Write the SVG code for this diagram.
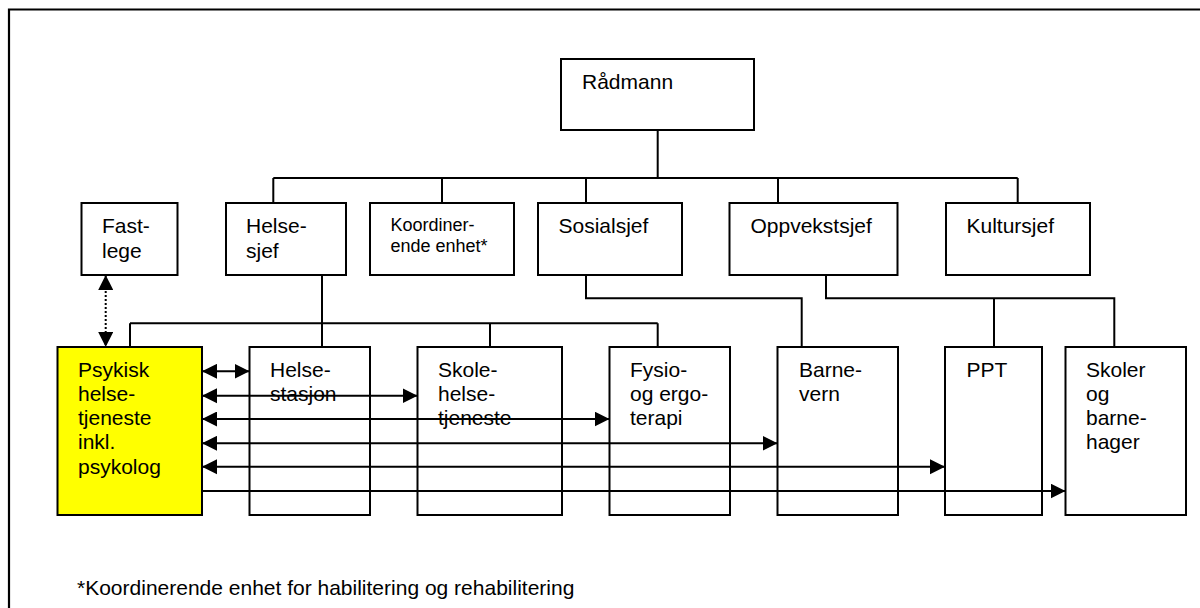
<svg xmlns="http://www.w3.org/2000/svg" width="1200" height="608" viewBox="0 0 1200 608">
<style>
.box{fill:#fff;stroke:#000;stroke-width:2}
.yel{fill:#ffff00;stroke:#000;stroke-width:2}
.t{font-family:"Liberation Sans",Arial,sans-serif;font-size:21px;fill:#000}
.ts{font-family:"Liberation Sans",Arial,sans-serif;font-size:18px;fill:#000}
.c{fill:none;stroke:#000;stroke-width:2}
.d{fill:none;stroke:#000;stroke-width:2;stroke-dasharray:2 2}
</style>
<defs>
<marker id="ae" markerUnits="userSpaceOnUse" markerWidth="18" markerHeight="18" refX="15" refY="7.5" orient="auto">
<path d="M0,0 L15,7.5 L0,15 Z" fill="#000"/>
</marker>
<marker id="as" markerUnits="userSpaceOnUse" markerWidth="18" markerHeight="18" refX="0" refY="7.5" orient="auto">
<path d="M15,0 L0,7.5 L15,15 Z" fill="#000"/>
</marker>
</defs>
<rect width="1200" height="608" fill="#fff"/>
<path id="frame" d="M9,620 V9.5 H1210" fill="none" stroke="#000" stroke-width="2.2"/>

<g id="radmann"><rect class="box" x="561" y="59" width="193" height="71"/><text class="t" x="582" y="89">Rådmann</text></g>
<g id="fastlege"><rect class="box" x="81.5" y="203" width="96" height="72"/><text class="t" x="102" y="233">Fast-</text><text class="t" x="102" y="258">lege</text></g>
<g id="helsesjef"><rect class="box" x="226" y="203" width="120" height="72"/><text class="t" x="246" y="233">Helse-</text><text class="t" x="246" y="258">sjef</text></g>
<g id="koordinerende"><rect class="box" x="370" y="203" width="144" height="72"/><text class="ts" x="390.5" y="231">Koordiner-</text><text class="ts" x="390.5" y="252">ende enhet*</text></g>
<g id="sosialsjef"><rect class="box" x="538" y="203" width="144" height="72"/><text class="t" x="558.5" y="233">Sosialsjef</text></g>
<g id="oppvekstsjef"><rect class="box" x="729.5" y="203" width="168" height="72"/><text class="t" x="750.5" y="233">Oppvekstsjef</text></g>
<g id="kultursjef"><rect class="box" x="946" y="203" width="144" height="72"/><text class="t" x="966.5" y="233">Kultursjef</text></g>

<g id="psykisk"><rect class="yel" x="57.5" y="347" width="144.5" height="168"/>
<text class="t" x="78" y="376.5">Psykisk</text><text class="t" x="78" y="400.8">helse-</text><text class="t" x="78" y="425">tjeneste</text><text class="t" x="78" y="449.3">inkl.</text><text class="t" x="78" y="473.5">psykolog</text></g>
<g id="helsestasjon"><rect class="box" x="249.5" y="347" width="120.5" height="168"/><text class="t" x="270" y="376.5">Helse-</text><text class="t" x="270" y="400.8">stasjon</text></g>
<g id="skolehelsetjeneste"><rect class="box" x="417.5" y="347" width="144.5" height="168"/><text class="t" x="438" y="376.5">Skole-</text><text class="t" x="438" y="400.8">helse-</text><text class="t" x="438" y="425">tjeneste</text></g>
<g id="fysio"><rect class="box" x="609.5" y="347" width="120.5" height="168"/><text class="t" x="630" y="376.5">Fysio-</text><text class="t" x="630" y="400.8">og ergo-</text><text class="t" x="630" y="425">terapi</text></g>
<g id="barnevern"><rect class="box" x="777.5" y="347" width="120.5" height="168"/><text class="t" x="799" y="376.5">Barne-</text><text class="t" x="799" y="400.8">vern</text></g>
<g id="ppt"><rect class="box" x="945" y="347" width="97" height="168"/><text class="t" x="966.5" y="376.5">PPT</text></g>
<g id="skoler"><rect class="box" x="1065.5" y="347" width="120.5" height="168"/><text class="t" x="1086" y="376.5">Skoler</text><text class="t" x="1086" y="400.8">og</text><text class="t" x="1086" y="425">barne-</text><text class="t" x="1086" y="449.3">hager</text></g>

<g id="connectors">
<path class="c" d="M657.7,130 V178 M273.3,178 H1017.7 M273.3,178 V203 M442,178 V203 M586,178 V203 M778,178 V203 M1017.7,178 V203"/>
<path class="c" d="M322,275 V347 M130,323.3 H657.7 M130,323.3 V347 M490,323.3 V347 M657.7,323.3 V347"/>
<path class="c" d="M586,275 V298.3 H801.7 V347"/>
<path class="c" d="M826,275 V298.3 H1114.3 V347 M994,298.3 V347"/>
<path class="d" d="M105.7,275 V347" marker-start="url(#as)" marker-end="url(#ae)"/>
<path class="c" d="M202,371.3 H249.5" marker-start="url(#as)" marker-end="url(#ae)"/>
<path class="c" d="M202,395.7 H417.5" marker-start="url(#as)" marker-end="url(#ae)"/>
<path class="c" d="M202,419 H609.5" marker-start="url(#as)" marker-end="url(#ae)"/>
<path class="c" d="M202,443.3 H777.5" marker-start="url(#as)" marker-end="url(#ae)"/>
<path class="c" d="M202,466.7 H945" marker-start="url(#as)" marker-end="url(#ae)"/>
<path class="c" d="M202,491 H1065.5" marker-end="url(#ae)"/>
</g>

<text id="footnote" class="t" x="77" y="595">*Koordinerende enhet for habilitering og rehabilitering</text>
</svg>
